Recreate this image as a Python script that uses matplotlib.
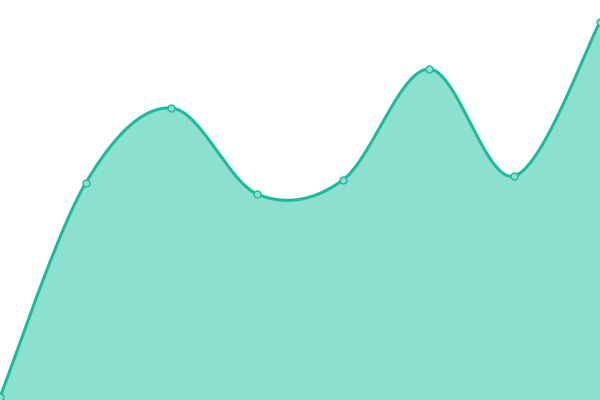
import numpy as np
import matplotlib
matplotlib.use("Agg")
import matplotlib.pyplot as plt

categories = ["A", "B", "C", "D", "E", "F", "G", "H"]
values = [3, 217, 292, 206, 220, 331, 224, 378]

def catmull_rom(x, y, n=60, tension=0.5):
    x = np.asarray(x, float); y = np.asarray(y, float)
    px = np.concatenate([[x[0]], x, [x[-1]]])
    py = np.concatenate([[y[0]], y, [y[-1]]])
    xs, ys = [], []
    for i in range(1, len(px) - 2):
        p0, p1, p2, p3 = (np.array([px[j], py[j]]) for j in (i - 1, i, i + 1, i + 2))
        m1 = tension * (p2 - p0)
        m2 = tension * (p3 - p1)
        t = np.linspace(0, 1, n)[:, None]
        h00 = 2*t**3 - 3*t**2 + 1; h10 = t**3 - 2*t**2 + t
        h01 = -2*t**3 + 3*t**2; h11 = t**3 - t**2
        pts = h00*p1 + h10*m1 + h01*p2 + h11*m2
        xs.append(pts[:, 0]); ys.append(pts[:, 1])
    return np.concatenate(xs), np.concatenate(ys)

x = np.arange(len(categories))
sx, sy = catmull_rom(x, values)

fig = plt.figure(figsize=(6, 4), dpi=100)
ax = fig.add_axes([0, 0, 1, 1])
ax.fill_between(sx, 0, sy, color="#8ce0cf", lw=0)
ax.plot(sx, sy, color="#1abc9c", lw=2.2, solid_capstyle="round")
ax.plot(x, values, "o", ms=5, mfc="#8ce0cf", mec="#1abc9c", mew=1)
ax.set_xlim(0, len(categories) - 1)
ax.set_ylim(0, 400)
ax.axis("off")
fig.savefig("out.png", dpi=100)
